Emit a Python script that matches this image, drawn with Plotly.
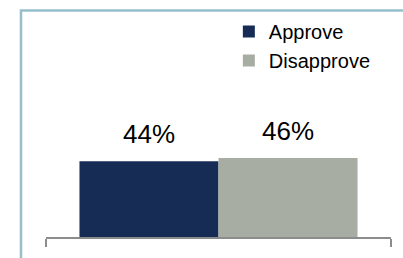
import plotly.graph_objects as go

categories = ["Overall"]
series_names = ["Approve", "Disapprove"]
series_values = [[44], [46]]
series_colors = ["#172c55", "#a8ada3"]
label_suffix = "%"

BARGAP = 0.194
FONT = "Liberation Sans, Arial, sans-serif"

fig = go.Figure()
n = len(series_names)
bar_w = (1 - BARGAP) / n
for i, (name, vals, col) in enumerate(zip(series_names, series_values, series_colors)):
    fig.add_trace(go.Bar(
        x=categories, y=vals, name=name,
        marker=dict(color=col, line=dict(width=0)),
        hoverinfo="skip",
    ))
    offset = -(1 - BARGAP) / 2 + bar_w * (i + 0.5)
    for j, v in enumerate(vals):
        fig.add_annotation(
            x=j + offset, y=v, xref="x", yref="y",
            text=f"{v}{label_suffix}", showarrow=False,
            yanchor="bottom", xanchor="center", yshift=10,
            font=dict(family=FONT, size=26, color="#000000"),
        )

fig.update_layout(
    width=403, height=258,
    margin=dict(l=46, r=12, t=62, b=21),
    paper_bgcolor="white", plot_bgcolor="white",
    barmode="group", bargap=BARGAP, bargroupgap=0,
    showlegend=True,
    legend=dict(
        x=0.53, y=1.308, xanchor="left", yanchor="top",
        font=dict(family=FONT, size=20, color="#000000"),
        bgcolor="rgba(0,0,0,0)", itemwidth=30,
    ),
    xaxis=dict(
        type="category", showticklabels=False, showgrid=False,
        showline=True, linecolor="#8c8c8c", linewidth=2,
        ticks="outside", tickson="boundaries", ticklen=8,
        tickcolor="#8c8c8c", tickwidth=2, zeroline=False,
    ),
    yaxis=dict(visible=False, range=[0, 100], fixedrange=True),
    shapes=[dict(
        type="rect", xref="paper", yref="paper",
        x0=-0.0725, x1=1.3, y0=-0.5, y1=1.317,
        line=dict(color="#97bfcb", width=2.5), layer="below",
    )],
)

fig.write_html(
    "out.html",
    config={"displayModeBar": False},
    post_script="document.body.style.margin='0';document.body.style.overflow='hidden';document.documentElement.style.overflow='hidden';",
)
